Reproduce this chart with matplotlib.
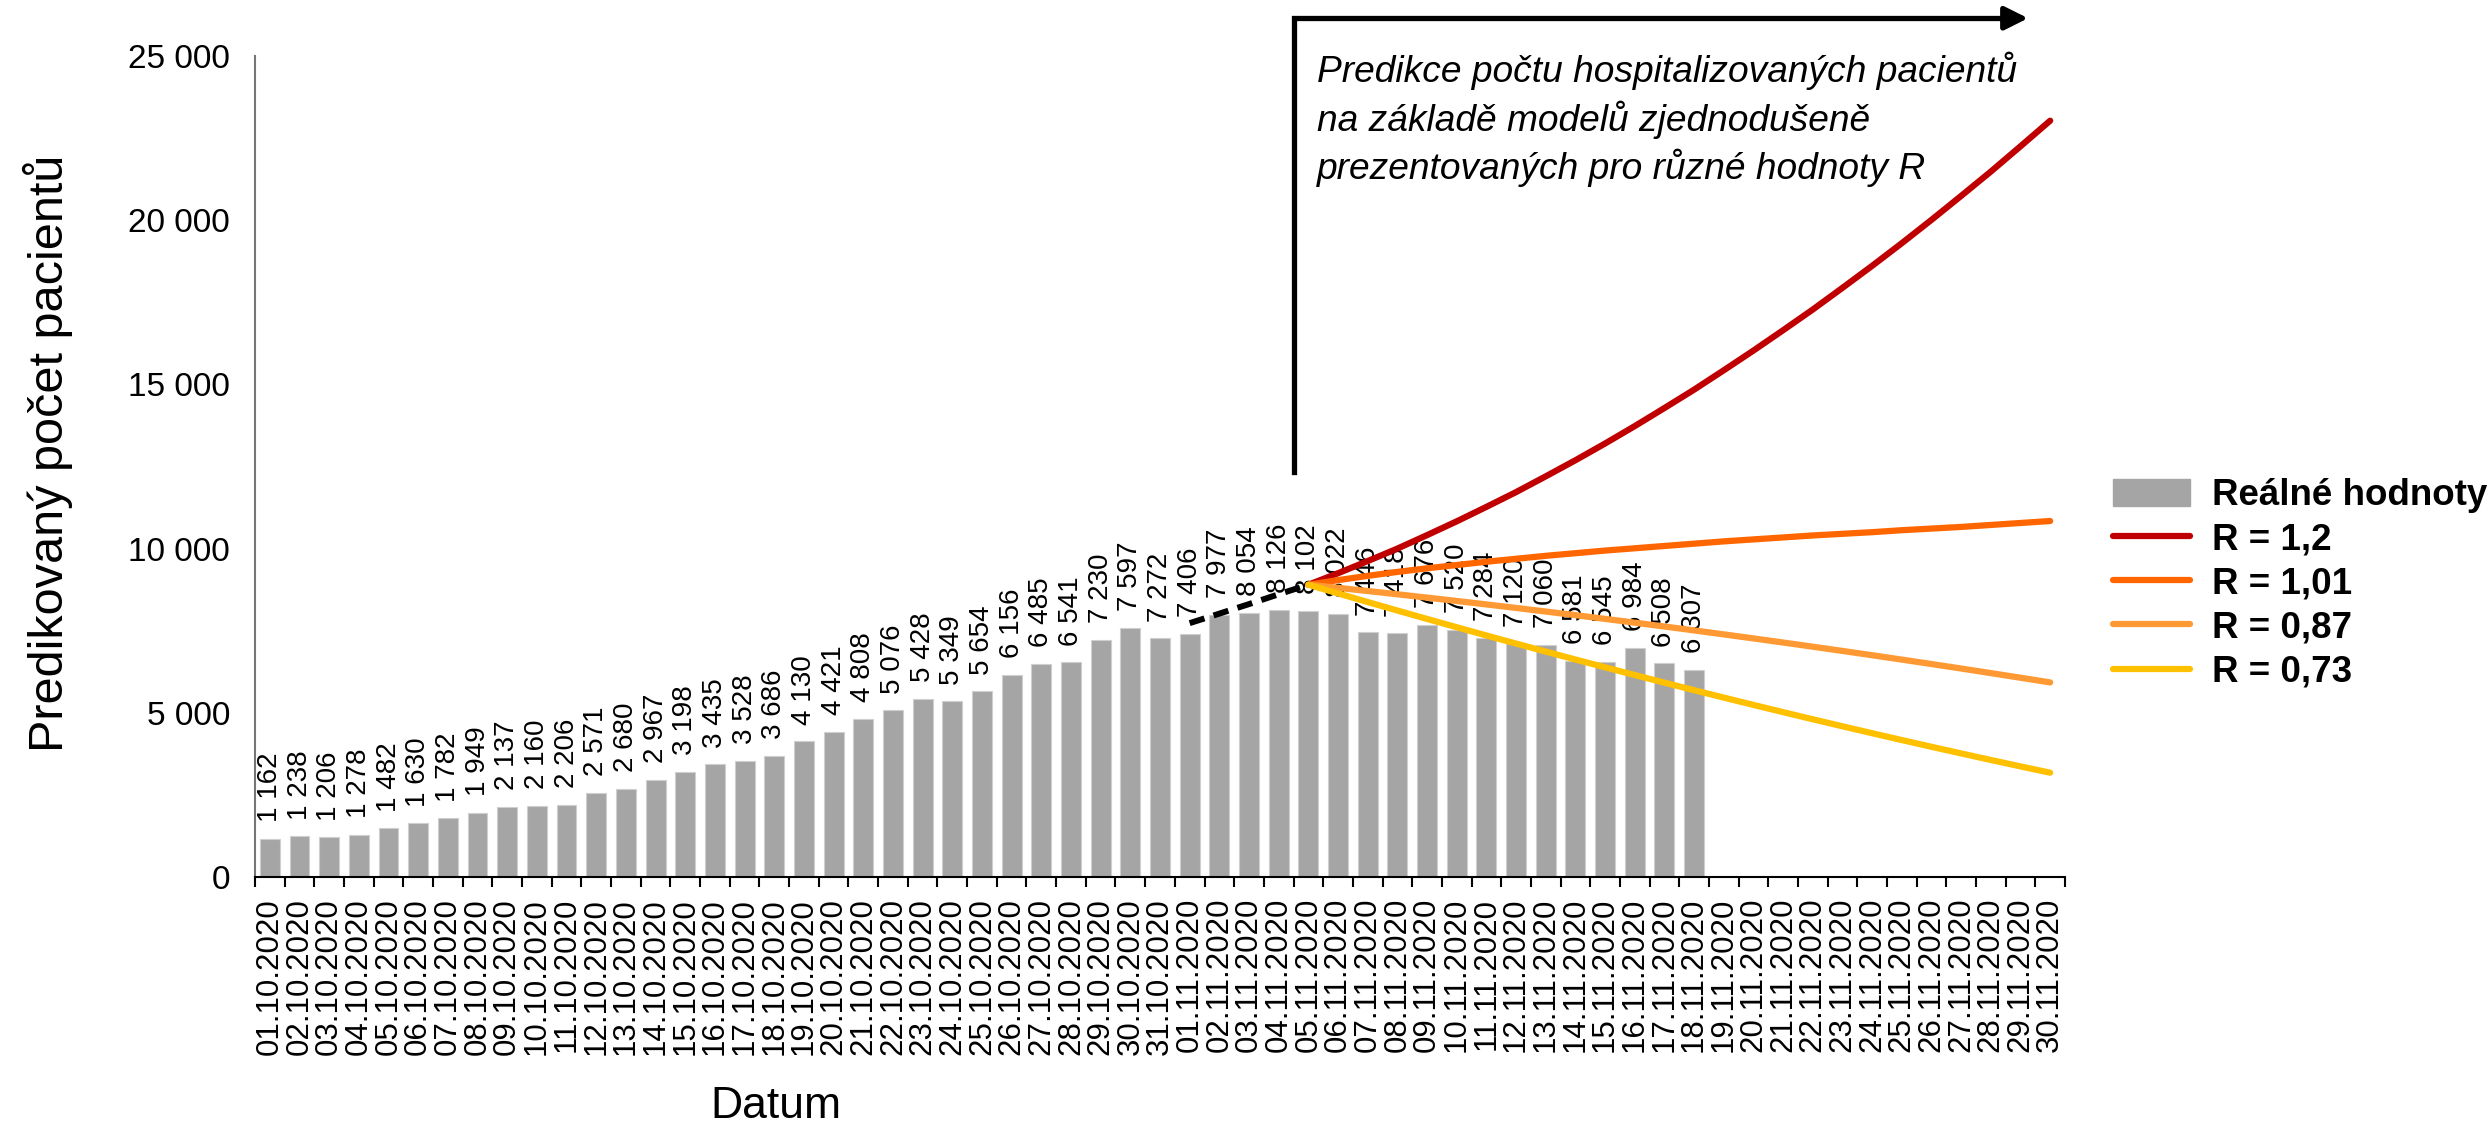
import matplotlib
matplotlib.use('Agg')
import matplotlib.pyplot as plt
from matplotlib.patches import Patch
import numpy as np
import pandas as pd

plt.rcParams['font.family'] = ['Liberation Sans', 'DejaVu Sans']

# Data
dates = pd.date_range('2020-10-01', '2020-11-30').strftime('%d.%m.%Y').tolist()

real_values = [1162, 1238, 1206, 1278, 1482, 1630, 1782, 1949, 2137, 2160,
               2206, 2571, 2680, 2967, 3198, 3435, 3528, 3686, 4130, 4421,
               4808, 5076, 5428, 5349, 5654, 6156, 6485, 6541, 7230, 7597,
               7272, 7406, 7977, 8054, 8126, 8102, 8022, 7446, 7418, 7676,
               7520, 7284, 7120, 7060, 6581, 6545, 6984, 6508, 6307]

bridge_dates = dates[31:36]
bridge_values = [7730, 8020, 8310, 8610, 8900]

pred_dates = dates[35:]
pred_r120 = [8900, 9250, 9620, 10000, 10410, 10830, 11270, 11720, 12200, 12690,
             13200, 13730, 14280, 14840, 15430, 16030, 16650, 17280, 17940, 18610,
             19300, 20010, 20740, 21480, 22250, 23030]
pred_r101 = [8900, 9040, 9170, 9290, 9400, 9500, 9600, 9690, 9780, 9860,
             9940, 10010, 10080, 10150, 10220, 10280, 10340, 10400, 10450, 10500,
             10560, 10610, 10660, 10720, 10780, 10840]
pred_r087 = [8900, 8805, 8708, 8609, 8508, 8405, 8300, 8193, 8084, 7973,
             7860, 7745, 7628, 7509, 7388, 7265, 7140, 7013, 6884, 6753,
             6620, 6485, 6348, 6209, 6068, 5925]
pred_r073 = [8900, 8635, 8373, 8114, 7858, 7605, 7355, 7108, 6864, 6623,
             6385, 6150, 5918, 5689, 5463, 5240, 5020, 4803, 4589, 4378,
             4170, 3965, 3763, 3564, 3368, 3175]

series_labels = ['R = 1,2', 'R = 1,01', 'R = 0,87', 'R = 0,73']
series_colors = ['#C00000', '#FF6600', '#FF9933', '#FFC000']

W, H = 2491, 1127
fig = plt.figure(figsize=(W / 100, H / 100), dpi=100)
ax = fig.add_axes([255 / W, 1 - 877 / H, (2065 - 255) / W, (877 - 56) / H])

x = np.arange(len(dates))
pos = {d: i for i, d in enumerate(dates)}

# bars + labels
ax.bar(x[:len(real_values)], real_values, width=0.67, color='#A5A5A5',
       edgecolor='#CFCFCF', linewidth=0.8, zorder=1)
for i, v in enumerate(real_values):
    ax.annotate(f'{v:,}'.replace(',', ' '), (i, v), xytext=(0, 12),
                textcoords='offset points', rotation=90, ha='center',
                va='bottom', fontsize=20, zorder=2)

# dashed bridge
ax.plot([pos[d] for d in bridge_dates], bridge_values, color='black', lw=4.3,
        ls=(0, (2.6, 1.6)), zorder=4)

# predictions
px = [pos[d] for d in pred_dates]
for vals, col, lab in zip([pred_r120, pred_r101, pred_r087, pred_r073],
                          series_colors, series_labels):
    ax.plot(px, vals, color=col, lw=4.5, solid_capstyle='round', label=lab, zorder=5)

ax.set_xlim(-0.5, len(dates) - 0.5)
ax.set_ylim(0, 25000)
ax.set_yticks(range(0, 25001, 5000))
ax.set_yticklabels([f'{t:,}'.replace(',', ' ') for t in range(0, 25001, 5000)])
ax.tick_params(axis='y', length=0, pad=18, labelsize=24)

ax.set_xticks(np.arange(-0.5, len(dates), 1))
ax.set_xticklabels([])
ax.set_xticks(x, minor=True)
ax.set_xticklabels(dates, minor=True, rotation=90, fontsize=22.5)
ax.tick_params(axis='x', which='major', length=7, width=1.5, color='black')
ax.tick_params(axis='x', which='minor', length=0, pad=15)

for s in ['top', 'right']:
    ax.spines[s].set_visible(False)
ax.spines['left'].set_color('#767676')
ax.spines['left'].set_linewidth(1.5)
ax.spines['bottom'].set_color('black')
ax.spines['bottom'].set_linewidth(1.5)

# prediction arrow + note
ax.plot([34.5, 34.5, 58.6], [12330, 26150, 26150], color='black', lw=3.8,
        clip_on=False, solid_joinstyle='miter', zorder=6)
ax.annotate('', xy=(59.35, 26150), xytext=(58.5, 26150),
            arrowprops=dict(arrowstyle='-|>', color='black', lw=3.8,
                            mutation_scale=35),
            annotation_clip=False)
fig.text(1317 / W, 1 - 52 / H,
         'Predikce počtu hospitalizovaných pacientů\n'
         'na základě modelů zjednodušeně\n'
         'prezentovaných pro různé hodnoty R',
         style='italic', fontsize=26.7, va='top', ha='left', linespacing=1.32)

fig.text(48 / W, 1 - 453 / H, 'Predikovaný počet pacientů', rotation=90,
         fontsize=35, va='center', ha='center')
fig.text(776 / W, 1 - 1106 / H, 'Datum', fontsize=32, ha='center', va='center')

handles = [Patch(color='#A5A5A5', label='Reálné hodnoty')] + ax.get_lines()[1:5]
fig.legend(handles=handles, loc='upper left',
           bbox_to_anchor=(2113 / W, 1 - 478 / H), frameon=False,
           borderpad=0, borderaxespad=0, prop={'weight': 'bold', 'size': 26.5},
           handlelength=2.1, handletextpad=0.6, labelspacing=0.25,
           handleheight=0.75)

fig.savefig('out.png', dpi=100)
